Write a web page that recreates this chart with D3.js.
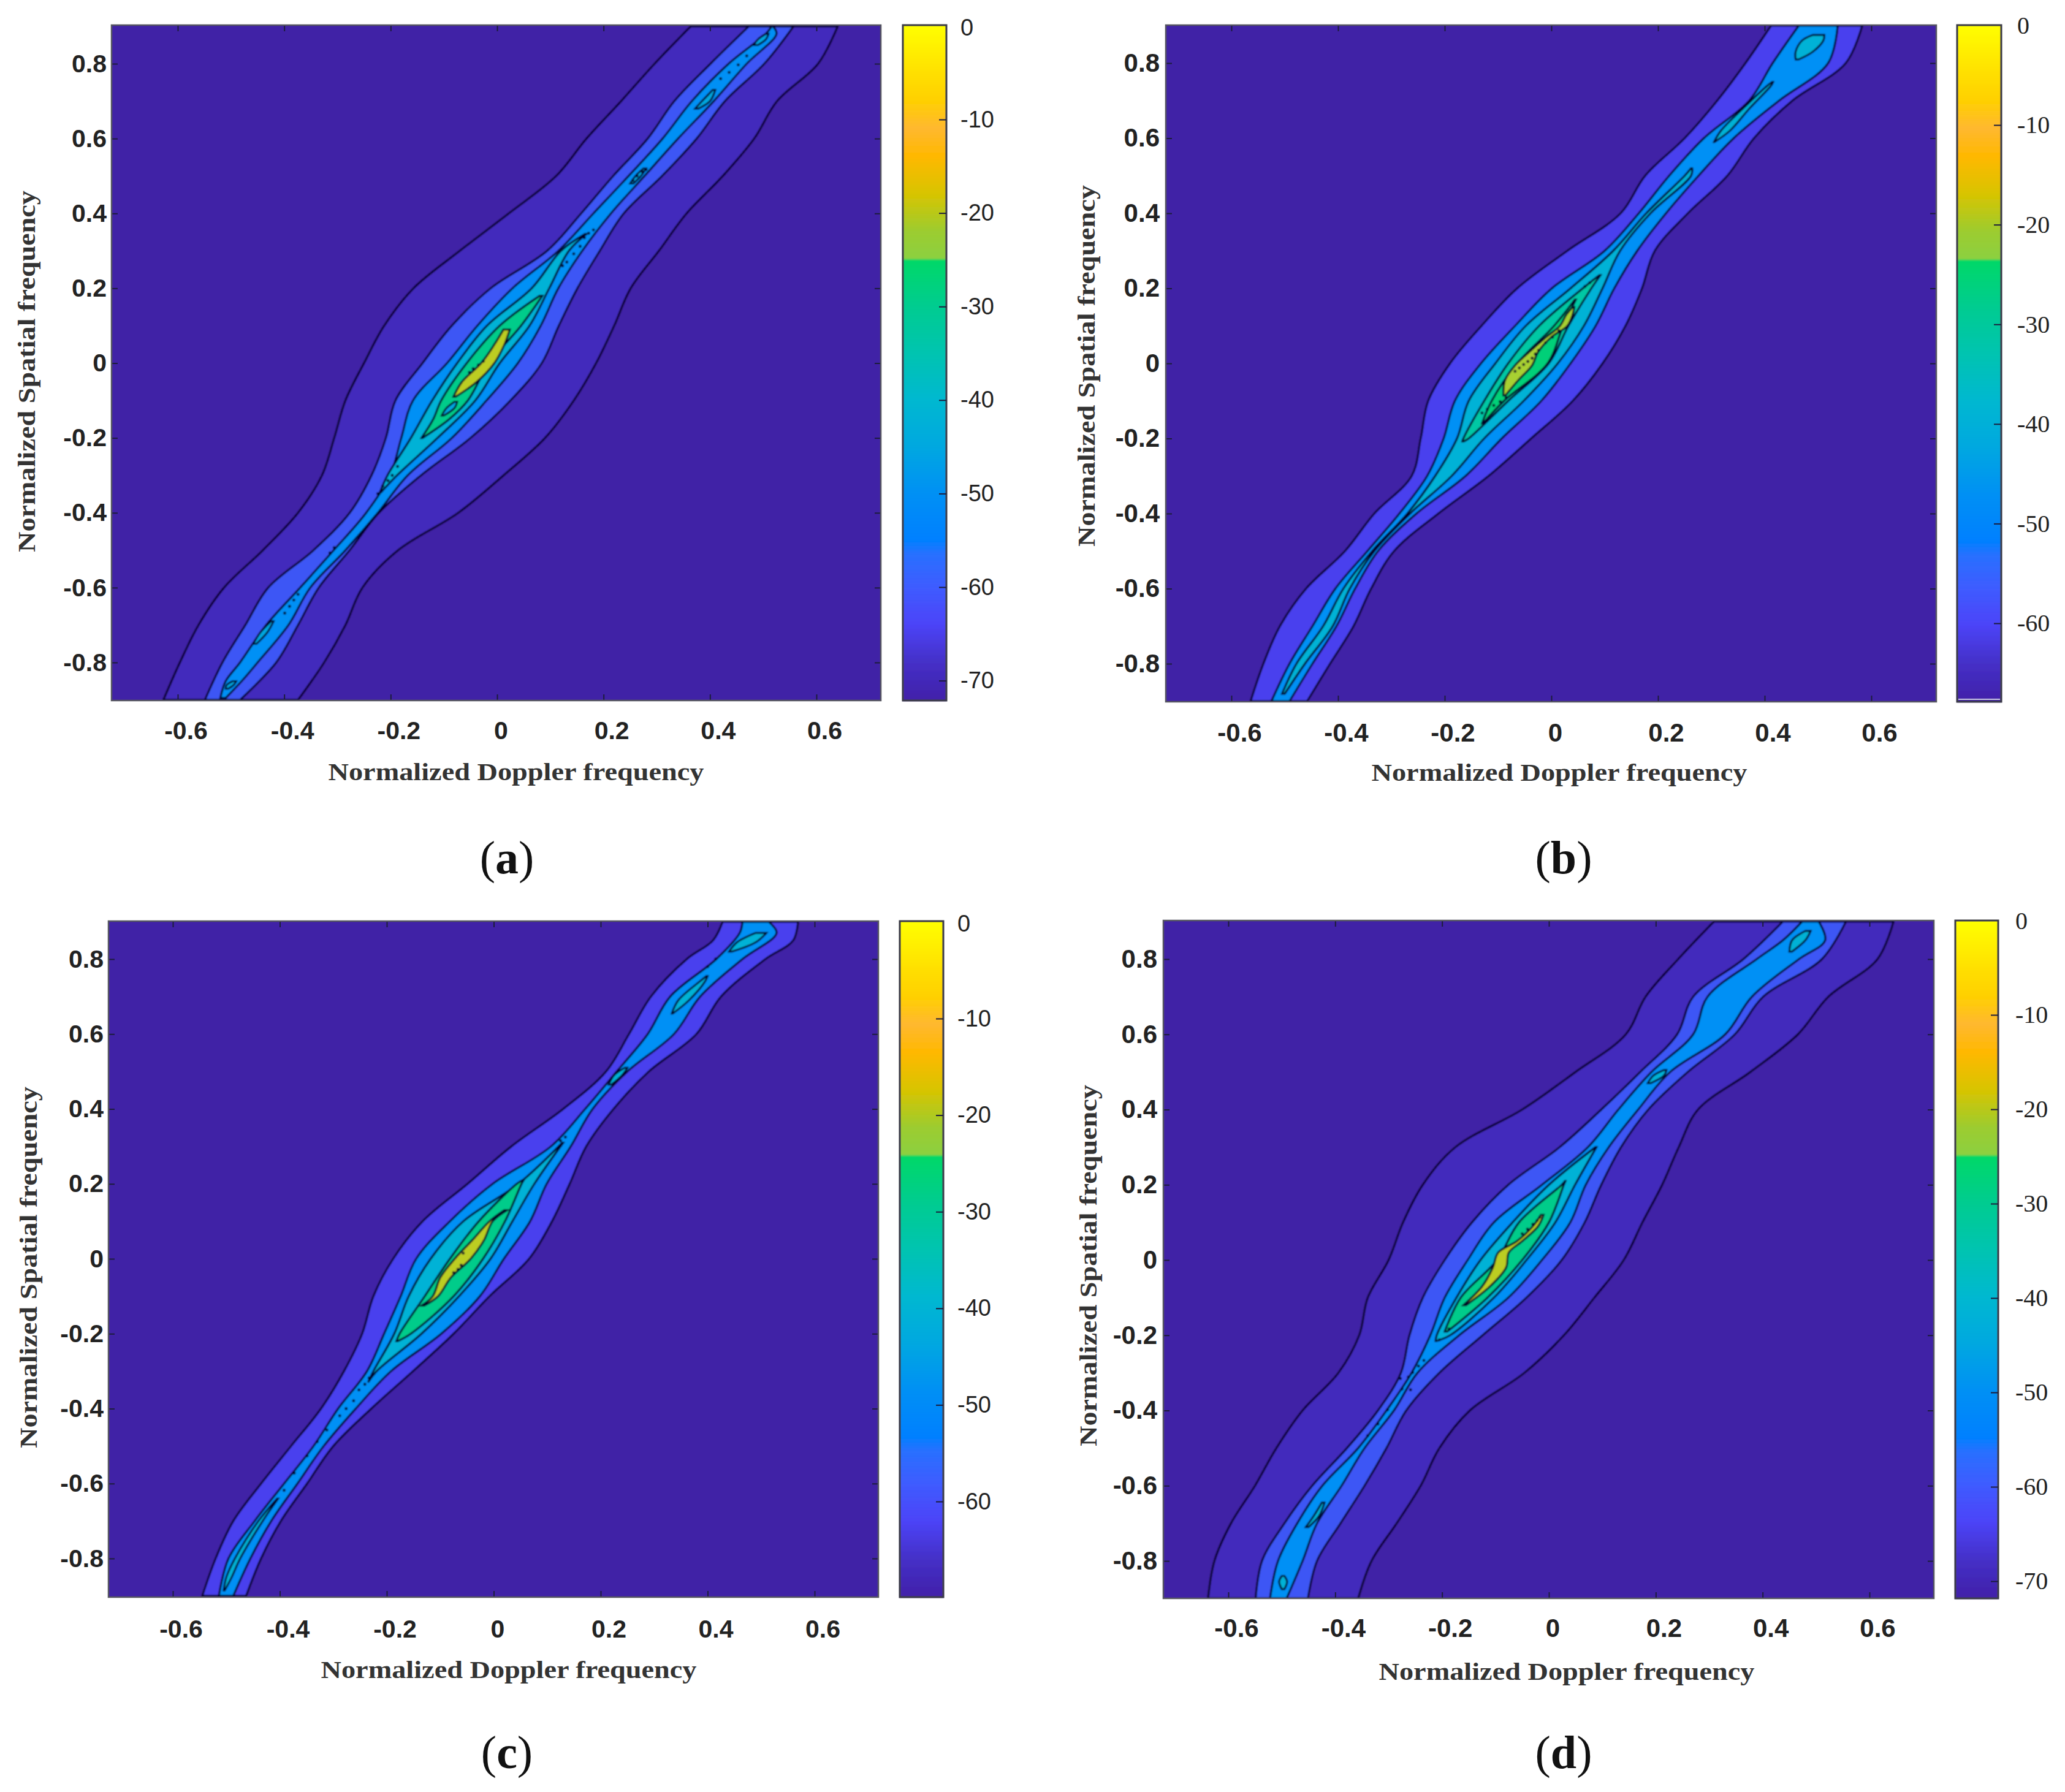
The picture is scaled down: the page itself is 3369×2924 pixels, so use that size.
<!DOCTYPE html>
<html>
<head>
<meta charset="utf-8">
<script src="https://cdn.jsdelivr.net/npm/d3@7"></script>
<style>
  html, body { margin: 0; background: #fff; }
  svg { display: block; }
</style>
</head>
<body>
<svg id="chart" width="3369" height="2924"></svg>
<script>
// every contour row is [spatial frequency, left doppler, right doppler]
const dopplerTicks = [-0.6, -0.4, -0.2, 0, 0.2, 0.4, 0.6];
const spatialTicks = [-0.8, -0.6, -0.4, -0.2, 0, 0.2, 0.4, 0.6, 0.8];
const xTitle = 'Normalized Doppler frequency';
const yTitle = 'Normalized Spatial frequency';
const cbarTicksA = [-10, -20, -30, -40, -50, -60, -70];
const cbarTicksB = [-10, -20, -30, -40, -50, -60];

// panel (a)
const a1 = [[-.9,-.627,-.374],[-.8,-.596,-.325],[-.7,-.561,-.285],[-.6,-.513,-.253],[-.5,-.44,-.186],[-.4,-.374,-.073],[-.3,-.329,.012],[-.2,-.306,.09],[-.1,-.285,.144],[0,-.25,.186],[.1,-.212,.22],[.2,-.157,.251],[.3,-.07,.304],[.4,.022,.356],[.5,.111,.424],[.6,.168,.483],[.7,.233,.526],[.8,.296,.603],[.9,.364,.64]];
const a2 = [[-.9,-.549,-.483],[-.8,-.516,-.415],[-.7,-.473,-.374],[-.6,-.43,-.335],[-.5,-.345,-.277],[-.4,-.277,-.222],[-.3,-.236,-.143],[-.2,-.209,-.05],[-.1,-.191,.025],[0,-.14,.084],[.1,-.085,.116],[.2,-.012,.151],[.3,.094,.193],[.4,.158,.238],[.5,.218,.31],[.6,.283,.375],[.7,.333,.428],[.8,.401,.502],[.9,.473,.557]];
const a3 = [[-.895,-.52,-.51],[-.85,-.51,-.48],[-.8,-.483,-.45],[-.7,-.434,-.392],[-.6,-.37,-.351],[-.5,-.307,-.285],[-.4,-.246,-.224],[-.3,-.201,-.168],[-.2,-.18,-.085],[-.1,-.158,-.02],[0,-.094,.039],[.1,-.037,.082],[.2,.029,.115],[.3,.115,.16],[.4,.181,.214],[.5,.247,.277],[.6,.311,.34],[.7,.366,.407],[.8,.435,.469],[.88,.505,.525],[.9,.516,.518]];
const a4 = [[-.345,-.22,-.218],[-.3,-.206,-.188],[-.2,-.162,-.112],[-.1,-.122,-.041],[0,-.075,.005],[.1,-.019,.061],[.2,.065,.098],[.3,.12,.135],[.345,.165,.168]];
const a5 = [[-.2,-.142,-.14],[-.15,-.12,-.09],[-.1,-.105,-.055],[0,-.057,-.015],[.1,.005,.045],[.18,.08,.085]];
const a6 = [[-.09,-.082,-.078],[-.05,-.066,-.038],[0,-.03,-.005],[.05,-.005,.014],[.09,.012,.024]];
const aIslands = [
  [[-.14,-.104,-.1],[-.12,-.095,-.08],[-.103,-.08,-.075]],
  [[.68,.372,.378],[.7,.385,.4],[.73,.405,.41]],
  [[.85,.482,.49],[.865,.49,.505],[.88,.505,.51]],
  [[.48,.25,.256],[.5,.26,.27],[.52,.275,.28]],
  [[-.87,-.51,-.505],[-.86,-.508,-.495],[-.85,-.497,-.49]],
  [[-.75,-.458,-.452],[-.72,-.445,-.432],[-.69,-.425,-.42]]
];
const aSpecks = [[.76,.42],[.777,.436],[.797,.453],[.821,.469],[.488,.255],[.5,.263],[.511,.273],[.517,.28],[.26,.123],[.27,.131],[.292,.144],[.312,.156],[.335,.164],[.347,.172],[.356,.181],[-.668,-.399],[-.65,-.39],[-.633,-.382],[-.618,-.374],[-.507,-.314],[-.493,-.306],[-.349,-.224],[-.329,-.215],[-.314,-.205],[-.3,-.197],[-.276,-.187],[-.015,-.045],[-.005,-.035],[.005,-.026],[-.025,-.052]];

// panel (b)
const b1 = [[-.9,-.564,-.458],[-.8,-.54,-.415],[-.7,-.509,-.371],[-.6,-.46,-.338],[-.5,-.387,-.295],[-.4,-.332,-.212],[-.3,-.262,-.118],[-.2,-.245,-.038],[-.1,-.231,.04],[0,-.19,.096],[.1,-.131,.139],[.2,-.064,.17],[.3,.03,.194],[.4,.13,.256],[.5,.176,.33],[.6,.25,.38],[.7,.311,.452],[.8,.364,.552],[.9,.412,.583]];
const b2 = [[-.9,-.525,-.491],[-.8,-.491,-.448],[-.7,-.448,-.403],[-.6,-.405,-.368],[-.5,-.345,-.325],[-.4,-.285,-.253],[-.3,-.233,-.161],[-.2,-.202,-.093],[-.1,-.181,-.019],[0,-.132,.036],[.1,-.068,.083],[.2,.001,.118],[.3,.1,.161],[.4,.164,.215],[.5,.221,.276],[.6,.286,.342],[.7,.371,.427],[.8,.415,.519],[.9,.464,.537]];
const b3 = [[-.88,-.505,-.5],[-.8,-.478,-.462],[-.7,-.428,-.41],[-.6,-.39,-.378],[-.5,-.336,-.332],[-.4,-.27,-.265],[-.3,-.218,-.187],[-.2,-.177,-.126],[-.1,-.155,-.052],[0,-.105,.012],[.1,-.048,.061],[.2,.036,.096],[.3,.116,.129],[.4,.178,.186],[.5,.25,.262],[.52,.262,.264]];
const b4 = [[-.208,-.167,-.165],[-.2,-.165,-.155],[-.1,-.126,-.081],[0,-.081,-.005],[.1,-.023,.032],[.2,.059,.075],[.235,.09,.092]];
const b5 = [[-.16,-.13,-.128],[-.1,-.112,-.089],[0,-.064,-.007],[.1,.005,.022],[.17,.044,.046]];
const b6 = [[-.085,-.09,-.086],[-.045,-.087,-.062],[-.005,-.068,-.036],[.03,-.042,-.025],[.07,-.01,0],[.1,.016,.03],[.13,.028,.04],[.15,.04,.043]];
const bIslands = [
  [[.59,.305,.306],[.62,.318,.335],[.68,.36,.372],[.74,.405,.412],[.75,.414,.416]],
  [[.81,.458,.464],[.83,.458,.49],[.86,.47,.51],[.875,.49,.512]]
];
const bSpecks = [[-.021,-.068],[-.012,-.06],[-.003,-.052],[.005,-.044],[.014,-.036],[.025,-.03],[.035,-.024],[.055,-.011],[.07,.002],[.087,.014],[-.132,-.13],[-.122,-.12],[-.112,-.108],[-.102,-.096],[-.091,-.085],[.205,.063],[.215,.072]];

// panel (c)
const c1 = [[-.9,-.545,-.463],[-.8,-.52,-.435],[-.7,-.487,-.398],[-.6,-.435,-.349],[-.5,-.379,-.3],[-.4,-.323,-.229],[-.3,-.28,-.151],[-.2,-.246,-.075],[-.1,-.225,-.008],[0,-.188,.066],[.1,-.133,.109],[.2,-.049,.142],[.3,.033,.173],[.4,.13,.224],[.5,.21,.29],[.6,.253,.379],[.7,.294,.425],[.8,.361,.508],[.85,.41,.56],[.9,.428,.569]];
const c2 = [[-.9,-.514,-.487],[-.8,-.496,-.455],[-.7,-.447,-.416],[-.6,-.392,-.367],[-.5,-.337,-.318],[-.4,-.291,-.258],[-.3,-.237,-.192],[-.2,-.205,-.098],[-.1,-.174,-.026],[0,-.145,.019],[.1,-.082,.068],[.2,-.002,.099],[.3,.107,.144],[.4,.171,.185],[.5,.23,.25],[.6,.288,.337],[.7,.33,.386],[.8,.416,.465],[.87,.46,.529],[.9,.465,.514]];
const c3 = [[-.33,-.235,-.235],[-.3,-.225,-.219],[-.2,-.186,-.135],[-.1,-.159,-.065],[0,-.118,-.006],[.1,-.057,.035],[.2,.046,.076],[.31,.128,.13]];
const c4 = [[-.22,-.182,-.18],[-.2,-.176,-.155],[-.1,-.129,-.075],[0,-.082,-.02],[.1,-.028,.021],[.2,.043,.052],[.21,.054,.056]];
const c6 = [[-.125,-.135,-.13],[-.1,-.114,-.104],[-.05,-.1,-.08],[0,-.073,-.043],[.05,-.04,-.018],[.1,-.008,-.002],[.13,.02,.025]];
const cIslands = [
  [[-.885,-.505,-.503],[-.85,-.5,-.49],[-.8,-.484,-.474],[-.7,-.44,-.432],[-.64,-.405,-.403]],
  [[.655,.333,.335],[.69,.345,.365],[.74,.385,.395],[.755,.398,.4]],
  [[.82,.44,.445],[.845,.455,.49],[.87,.49,.51]],
  [[.465,.215,.22],[.49,.225,.24],[.51,.245,.25]]
];
const cSpecks = [[-.4,-.276],[-.379,-.262],[-.35,-.252],[-.335,-.241],[-.318,-.233],[.325,.134],[.315,.125],[-.618,-.392],[-.572,-.373],[-.526,-.349],[-.488,-.33],[-.457,-.312],[-.419,-.288],[.015,-.057],[-.017,-.061],[-.028,-.067],[-.037,-.075],[.78,.4],[.8,.415]];

// panel (d)
const d1 = [[-.9,-.638,-.357],[-.8,-.626,-.332],[-.7,-.595,-.285],[-.6,-.55,-.24],[-.5,-.51,-.205],[-.4,-.461,-.148],[-.3,-.394,-.046],[-.2,-.355,.028],[-.1,-.339,.085],[0,-.3,.14],[.1,-.273,.175],[.2,-.236,.212],[.3,-.175,.243],[.4,-.05,.279],[.5,.05,.377],[.6,.144,.466],[.7,.181,.523],[.8,.242,.615],[.9,.309,.645]];
const d2 = [[-.9,-.549,-.451],[-.8,-.537,-.434],[-.7,-.495,-.39],[-.6,-.443,-.345],[-.5,-.378,-.304],[-.4,-.32,-.267],[-.3,-.277,-.205],[-.2,-.261,-.124],[-.1,-.236,-.042],[0,-.195,.024],[.1,-.144,.067],[.2,-.076,.098],[.3,.02,.135],[.4,.098,.186],[.5,.171,.26],[.6,.24,.348],[.7,.27,.401],[.8,.364,.511],[.9,.438,.556]];
const d3_ = [[-.9,-.522,-.491],[-.8,-.507,-.461],[-.7,-.471,-.434],[-.6,-.424,-.388],[-.5,-.357,-.345],[-.4,-.304,-.29],[-.3,-.257,-.246],[-.2,-.222,-.168],[-.1,-.195,-.076],[0,-.152,-.013],[.1,-.103,.04],[.2,-.013,.069],[.3,.073,.112],[.4,.13,.167],[.5,.192,.227],[.6,.27,.33],[.7,.297,.38],[.8,.389,.468],[.85,.438,.517],[.9,.474,.505]];
const d4 = [[-.215,-.212,-.21],[-.2,-.21,-.185],[-.1,-.173,-.103],[0,-.128,-.042],[.1,-.068,.012],[.2,0,.049],[.3,.087,.089]];
const d5 = [[-.19,-.195,-.19],[-.1,-.165,-.115],[0,-.097,-.05],[.1,-.056,0],[.2,.024,.028],[.21,.03,.031]];
const d6 = [[-.12,-.16,-.155],[-.07,-.125,-.11],[-.02,-.105,-.08],[.02,-.095,-.075],[.05,-.06,-.05],[.09,-.03,-.02],[.12,-.015,-.01]];
const dIslands = [
  [[.82,.45,.455],[.85,.455,.48],[.875,.48,.49]],
  [[-.875,-.5,-.495],[-.855,-.505,-.49],[-.84,-.5,-.495]],
  [[-.71,-.455,-.45],[-.68,-.44,-.43],[-.645,-.425,-.42]],
  [[.47,.185,.19],[.49,.195,.215],[.505,.215,.22]]
];
const dSpecks = [[-.343,-.275],[-.311,-.263],[-.299,-.255],[-.282,-.244],[-.267,-.234],[-.212,-.205],[-.183,-.187],[-.467,-.339],[-.436,-.32],[-.398,-.302],[-.345,-.259],[-.315,-.278],[.07,-.05],[.082,-.04],[.095,-.03],[.105,-.022],[.114,-.017]];

// band fills
const plotBg = '#3f20a6';
const bandDeep = '#4329bc';
const bandBlue = '#3c56f5';
const bandViolet = '#4a40ee';
const bandSky = '#0090f5';
const bandCyan = '#00b2d6';
const bandTeal = '#00c8a4';
const bandMint = '#00cc8a';
const bandGreen = '#00d078';
const bandYellow = '#bccd24';
const bandLime = '#a8d030';

// colormap, as position along the bar (0 top, 1 bottom)
const cbarStops = [0, .069, .111, .152, .194, .249, .305, .345, .348, .416, .485, .554, .623, .693, .762, .783, .831, .886, .942, 1];
const cbarColors = ['#ffff00', '#ffe000', '#ffd000', '#ffb830', '#ffb800', '#d8c400', '#9ccc30', '#8cd040', '#00d868', '#00cc90', '#00c4b0', '#00b8d0', '#00a8e0', '#0090f4', '#0080ff', '#2870ff', '#3e5cff', '#4c44f8', '#4430c8', '#4220a8'];

const svg = d3.select('#chart');
const defs = svg.append('defs');
defs.append('filter').attr('id', 'soft')
  .attr('x', '-2%').attr('y', '-2%').attr('width', '104%').attr('height', '104%')
  .append('feGaussianBlur').attr('stdDeviation', 0.8);

const cmap = d3.scaleLinear().domain(cbarStops).range(cbarColors);
const isleInk = '#060428';

function drawPanel(p) {
  const x = d3.scaleLinear().domain([-0.6, 0.6]).range(p.xTicks);
  const y = d3.scaleLinear().domain([-0.8, 0.8]).range(p.yTicks);
  const cb = d3.scaleLinear().domain([-10, -60]).range(p.cbTicks);
  const [L, R, T, B] = p.box;
  const clipId = 'clip-' + p.name;

  defs.append('clipPath').attr('id', clipId)
    .append('rect').attr('x', L).attr('y', T).attr('width', R - L).attr('height', B - T);

  const area = d3.area()
    .y(d => y(d[0]))
    .x0(d => x(d[1]))
    .x1(d => x(d[2]))
    .curve(d3.curveCatmullRom.alpha(0.5));

  const plot = svg.append('g').attr('clip-path', `url(#${clipId})`)
    .append('g').attr('filter', 'url(#soft)');
  plot.append('rect').attr('x', L - 5).attr('y', T - 5).attr('width', R - L + 10).attr('height', B - T + 10).attr('fill', plotBg);

  plot.selectAll('path.band').data(p.bands).join('path')
    .attr('class', 'band')
    .attr('d', d => area(d.rows))
    .attr('fill', d => d.color)
    .attr('stroke', isleInk)
    .attr('stroke-width', 3.2);

  plot.selectAll('path.isle').data(p.islands).join('path')
    .attr('class', 'isle')
    .attr('d', d => area(d))
    .attr('fill', p.isleColor)
    .attr('stroke', isleInk)
    .attr('stroke-width', 3);

  plot.selectAll('circle').data(p.specks).join('circle')
    .attr('cx', d => x(d[1]))
    .attr('cy', d => y(d[0]))
    .attr('r', 2.4)
    .attr('fill', isleInk);

  // axes with inward ticks on all four sides
  const fmt = d => String(d);
  const axes = svg.append('g').attr('font-family', p.font).attr('font-weight', 'bold').attr('fill', '#222');

  const bottom = axes.append('g').attr('transform', `translate(0,${B})`)
    .call(d3.axisBottom(x).tickValues(dopplerTicks).tickSize(-10).tickPadding(p.xPad).tickFormat(fmt));
  const left = axes.append('g').attr('transform', `translate(${L},0)`)
    .call(d3.axisLeft(y).tickValues(spatialTicks).tickSize(-10).tickPadding(p.yPad).tickFormat(fmt));
  axes.append('g').attr('transform', `translate(0,${T})`)
    .call(d3.axisTop(x).tickValues(dopplerTicks).tickSize(-10).tickFormat(''));
  axes.append('g').attr('transform', `translate(${R},0)`)
    .call(d3.axisRight(y).tickValues(spatialTicks).tickSize(-10).tickFormat(''));

  axes.selectAll('.domain').remove();
  axes.selectAll('.tick line').attr('stroke', '#1c1c3c').attr('stroke-width', 2);
  bottom.selectAll('text').attr('font-size', p.tickSize).attr('fill', '#222')
    .attr('dx', d => d === 0 ? 6 : 13);
  left.selectAll('text').attr('font-size', p.tickSize).attr('fill', '#222').attr('dy', `calc(0.32em + ${p.yShift}px)`);

  svg.append('rect').attr('x', L).attr('y', T).attr('width', R - L).attr('height', B - T)
    .attr('fill', 'none').attr('stroke', '#555560').attr('stroke-width', 2.5);

  // titles
  svg.append('text').text(xTitle)
    .attr('x', p.xTitle[0]).attr('y', p.xTitle[1] + 4)
    .attr('text-anchor', 'middle').attr('dominant-baseline', 'middle')
    .attr('font-family', 'Liberation Serif').attr('font-weight', 'bold').attr('font-size', 40)
    .attr('fill', '#333').attr('textLength', 613).attr('lengthAdjust', 'spacingAndGlyphs');
  svg.append('text').text(yTitle)
    .attr('transform', `translate(${p.yTitle[0]},${p.yTitle[1]}) rotate(-90)`)
    .attr('text-anchor', 'middle').attr('dominant-baseline', 'middle')
    .attr('font-family', 'Liberation Serif').attr('font-weight', 'bold').attr('font-size', 40)
    .attr('fill', '#333').attr('textLength', 590).attr('lengthAdjust', 'spacingAndGlyphs');

  // colorbar
  const [cL, cR] = p.cbBox;
  const bar = svg.append('g').attr('filter', 'url(#soft)');
  bar.selectAll('rect').data(d3.range(T, B)).join('rect')
    .attr('x', cL).attr('y', d => d).attr('width', cR - cL).attr('height', 1.5)
    .attr('fill', d => cmap((d - T) / (B - T)));
  svg.append('rect').attr('x', cL).attr('y', T).attr('width', cR - cL).attr('height', B - T)
    .attr('fill', 'none').attr('stroke', '#3a3a48').attr('stroke-width', 3);
  if (p.whiteFoot) {
    svg.append('rect').attr('x', cL + 2).attr('y', B - 5).attr('width', cR - cL - 4).attr('height', 2).attr('fill', '#c8c8e0');
  }

  const cbAxis = svg.append('g').attr('transform', `translate(${cR},0)`)
    .call(d3.axisRight(cb).tickValues(p.cbLabels).tickSize(-12).tickPadding(0).tickFormat(fmt));
  cbAxis.select('.domain').remove();
  cbAxis.selectAll('.tick line').attr('stroke', '#1c1c3c').attr('stroke-width', 2);
  cbAxis.selectAll('text')
    .attr('x', p.cbText - cR).attr('font-family', p.font).attr('font-size', p.cbSize)
    .attr('text-anchor', 'start').attr('fill', '#222').attr('dy', `calc(0.32em + ${p.cbShift}px)`);
  svg.append('text').text('0')
    .attr('x', p.cbText).attr('y', T + 7 + p.zeroShift)
    .attr('font-family', p.font).attr('font-size', p.cbSize).attr('dominant-baseline', 'middle').attr('fill', '#222');

  // caption, the letter in bold
  const cap = svg.append('text').attr('x', p.cap[0]).attr('y', p.cap[1] + 4)
    .attr('text-anchor', 'middle').attr('dominant-baseline', 'middle')
    .attr('font-family', 'Liberation Serif').attr('font-size', 76).attr('fill', '#111');
  cap.append('tspan').text('(');
  cap.append('tspan').text(p.name).attr('font-weight', 'bold');
  cap.append('tspan').text(')');
}

const panels = [
  {
    name: 'a', box: [182, 1437, 41, 1143], xTicks: [290, 1332], yTicks: [1081, 104],
    cbBox: [1473, 1544], cbTicks: [195, 958], cbLabels: cbarTicksA, cbText: 1567, cbSize: 38, cbShift: 5, zeroShift: 0,
    font: 'Liberation Sans', tickSize: 41, xPad: 34, yPad: 8, yShift: 7,
    xTitle: [842, 1260], yTitle: [48, 606], cap: [827, 1404], isleColor: '#00a8e0', whiteFoot: false,
    bands: [{rows: a1, color: bandDeep}, {rows: a2, color: bandBlue}, {rows: a3, color: bandSky}, {rows: a4, color: bandCyan}, {rows: a5, color: bandMint}, {rows: a6, color: bandYellow}],
    islands: aIslands, specks: aSpecks
  },
  {
    name: 'b', box: [1902, 3159, 41, 1145], xTicks: [2009, 3053], yTicks: [1083, 103],
    cbBox: [3193, 3265], cbTicks: [204, 1017], cbLabels: cbarTicksB, cbText: 3291, cbSize: 40, cbShift: 7, zeroShift: -2,
    font: 'Liberation Serif', tickSize: 42, xPad: 35, yPad: 10, yShift: 6,
    xTitle: [2544, 1261], yTitle: [1777, 597], cap: [2551, 1404], isleColor: bandCyan, whiteFoot: true,
    bands: [{rows: b1, color: bandViolet}, {rows: b2, color: bandSky}, {rows: b3, color: bandCyan}, {rows: b4, color: bandTeal}, {rows: b5, color: bandGreen}, {rows: b6, color: bandLime}],
    islands: bIslands, specks: bSpecks
  },
  {
    name: 'c', box: [177, 1433, 1503, 2606], xTicks: [282, 1329], yTicks: [2543, 1565],
    cbBox: [1468, 1539], cbTicks: [1662, 2450], cbLabels: cbarTicksB, cbText: 1562, cbSize: 38, cbShift: 5, zeroShift: 0,
    font: 'Liberation Sans', tickSize: 41, xPad: 37, yPad: 8, yShift: 7,
    xTitle: [830, 2725], yTitle: [51, 2068], cap: [827, 2864], isleColor: bandCyan, whiteFoot: false,
    bands: [{rows: c1, color: bandViolet}, {rows: c2, color: bandSky}, {rows: c3, color: bandCyan}, {rows: c4, color: bandMint}, {rows: c6, color: bandYellow}],
    islands: cIslands, specks: cSpecks
  },
  {
    name: 'd', box: [1898, 3155, 1502, 2608], xTicks: [2004, 3050], yTicks: [2547, 1565],
    cbBox: [3190, 3260], cbTicks: [1656, 2426], cbLabels: cbarTicksA, cbText: 3288, cbSize: 40, cbShift: 7, zeroShift: -2,
    font: 'Liberation Serif', tickSize: 42, xPad: 33, yPad: 10, yShift: 6,
    xTitle: [2556, 2728], yTitle: [1780, 2065], cap: [2551, 2864], isleColor: bandCyan, whiteFoot: false,
    bands: [{rows: d1, color: bandDeep}, {rows: d2, color: bandBlue}, {rows: d3_, color: bandSky}, {rows: d4, color: bandCyan}, {rows: d5, color: bandMint}, {rows: d6, color: bandYellow}],
    islands: dIslands, specks: dSpecks
  }
];

panels.forEach(drawPanel);
</script>
</body>
</html>
